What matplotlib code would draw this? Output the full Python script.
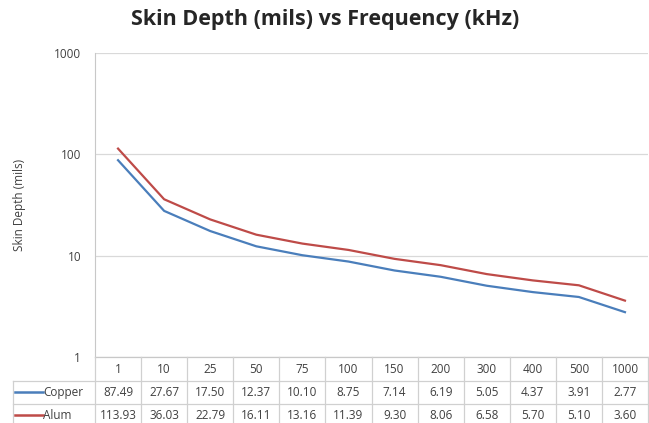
import numpy as np
import matplotlib
matplotlib.use('Agg')
import matplotlib.pyplot as plt

# 频率类别与趋肤深度数据 (mils)
freqs = ['1', '10', '25', '50', '75', '100', '150', '200', '300', '400', '500', '1000']
copper = [87.49, 27.67, 17.50, 12.37, 10.10, 8.75, 7.14, 6.19, 5.05, 4.37, 3.91, 2.77]
alum = [113.93, 36.03, 22.79, 16.11, 13.16, 11.39, 9.30, 8.06, 6.58, 5.70, 5.10, 3.60]
series_names = ['Copper', 'Alum']
series_colors = ['#4a7ebb', '#be4b48']

plt.rcParams['font.family'] = ['Open Sans', 'DejaVu Sans']

W, H = 649, 423
fig = plt.figure(figsize=(W / 100, H / 100), dpi=100)
fig.patch.set_facecolor('white')

# 绘图区域 (像素坐标换算)
px_left, px_right, px_top, px_bottom = 95, 648, 53, 357
ax = fig.add_axes([px_left / W, 1 - px_bottom / H,
                   (px_right - px_left) / W, (px_bottom - px_top) / H])
x = np.arange(len(freqs))
ax.plot(x, copper, color=series_colors[0], lw=1.6, solid_joinstyle='round')
ax.plot(x, alum, color=series_colors[1], lw=1.6, solid_joinstyle='round')
ax.set_yscale('log')
ax.set_ylim(1, 1000)
ax.set_xlim(-0.5, len(freqs) - 0.5)
ax.set_yticks([1, 10, 100, 1000])
ax.set_yticklabels(['1', '10', '100', '1000'], fontsize=8.5, color='#404040')
ax.yaxis.set_minor_locator(plt.NullLocator())
ax.set_xticks([])
ax.tick_params(axis='y', length=0, pad=10)
ax.grid(axis='y', color='#d9d9d9', lw=0.9)
for s in ['top', 'right', 'bottom']:
    ax.spines[s].set_visible(False)
ax.spines['left'].set_color('#c8c8c8')
ax.set_ylabel('Skin Depth (mils)', fontsize=8.5, color='#404040', labelpad=20)

fig.text(325 / W, 1 - 20 / H, 'Skin Depth (mils) vs Frequency (kHz)',
         ha='center', va='center', fontsize=15.5, fontweight='bold', color='#262626')

# 数据表
unit = (px_right - px_left) / len(freqs)
tab_left = 13
x0 = -0.5 - (px_left - tab_left) / unit
tax = fig.add_axes([tab_left / W, 0, (px_right - tab_left) / W, 1 - px_bottom / H])
tax.set_xlim(x0, len(freqs) - 0.5)
tax.set_ylim(0, 1 - px_bottom / H)
tax.axis('off')
to_y = lambda py: 1 - py / H
line_c = '#d0d0d0'
rows_y = [357, 381, 404, 427]
tax.plot([-0.5, len(freqs) - 0.5], [to_y(357)] * 2, color='#c8c8c8', lw=0.9, clip_on=False)
for py in rows_y[1:]:
    tax.plot([x0, len(freqs) - 0.5], [to_y(py)] * 2, color=line_c, lw=0.9, clip_on=False)
for i in range(len(freqs) + 1):
    tax.plot([i - 0.5] * 2, [to_y(357), to_y(427)], color=line_c, lw=0.9, clip_on=False)
tax.plot([x0] * 2, [to_y(381), to_y(427)], color=line_c, lw=0.9, clip_on=False)

tcol = '#404040'
for i, f in enumerate(freqs):
    tax.text(i, to_y(369), f, ha='center', va='center', fontsize=8.5, color=tcol)
for r, (vals, name, c) in enumerate(zip([copper, alum], series_names, series_colors)):
    yc = to_y([392, 415][r])
    tax.plot([x0 + 0.04, x0 + 0.65], [yc, yc], color=c, lw=1.8)
    tax.text(x0 + 0.66, yc, name, ha='left', va='center', fontsize=8.5, color=tcol)
    for i, v in enumerate(vals):
        tax.text(i, yc, '%.2f' % v, ha='center', va='center', fontsize=8.5, color=tcol)

fig.savefig('out.png', dpi=100)
